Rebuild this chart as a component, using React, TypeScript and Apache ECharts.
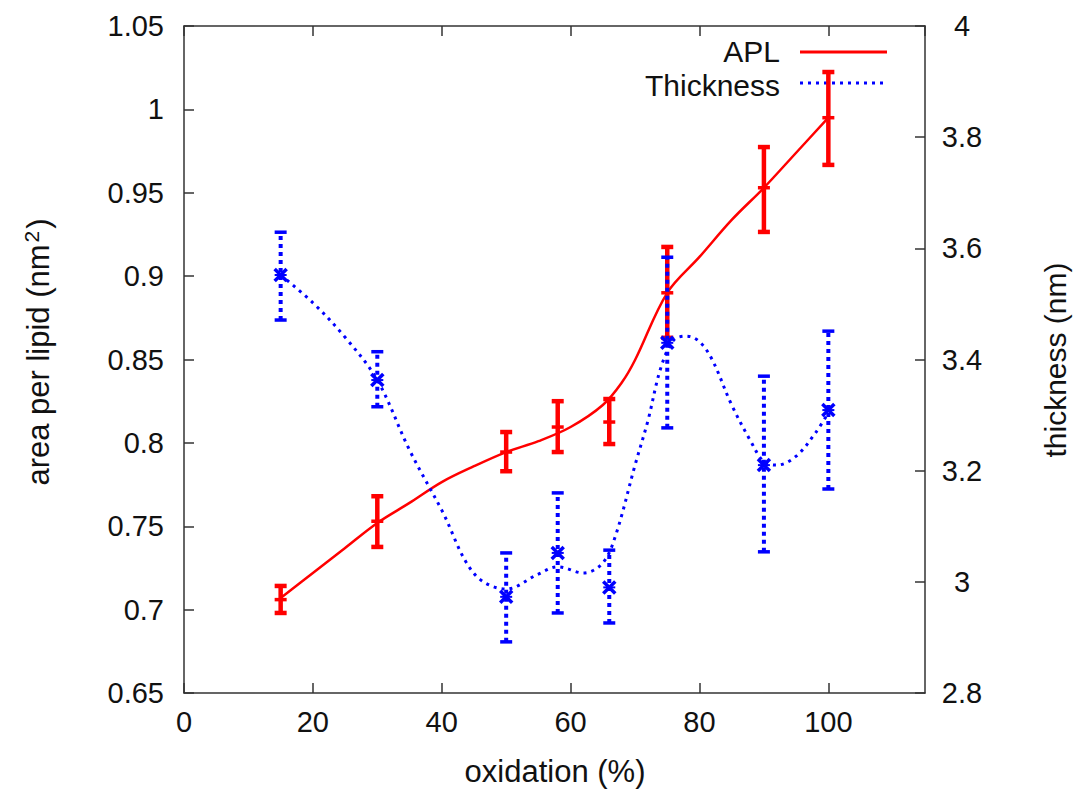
import React, { useEffect, useRef } from "react";
import * as echarts from "echarts";

// Measured points with error bars
const oxidation = [15, 30, 50, 58, 66, 75, 90, 100];
const apl = [0.706, 0.753, 0.7945, 0.8095, 0.8125, 0.89, 0.953, 0.995];
const aplLow = [0.698, 0.7376, 0.783, 0.7945, 0.7993, 0.863, 0.9265, 0.9667];
const aplHigh = [0.7142, 0.768, 0.8065, 0.825, 0.8263, 0.9175, 0.9774, 1.0224];
const thickness = [3.552, 3.363, 2.973, 3.052, 2.99, 3.43, 3.21, 3.309];
const thickLow = [3.471, 3.315, 2.892, 2.944, 2.926, 3.277, 3.054, 3.167];
const thickHigh = [3.629, 3.414, 3.052, 3.16, 3.057, 3.584, 3.37, 3.451];

// Smoothed fit curves
const aplCurveX = [15, 20, 25, 30, 35, 40, 45, 50, 55, 60, 65, 68, 70, 75, 80, 85, 90, 95, 100];
const aplCurveY = [0.707, 0.722, 0.737, 0.752, 0.764, 0.7765, 0.786, 0.7945, 0.801, 0.8095, 0.8227, 0.8365, 0.8497, 0.89, 0.9115, 0.9337, 0.953, 0.974, 0.995];
const thickCurveX = [15, 20, 25, 30, 35, 40, 45, 50, 55, 58, 62, 65, 67, 70, 72, 74, 76, 78, 80, 82, 85, 88, 90, 92, 95, 98, 100];
const thickCurveY = [3.552, 3.502, 3.44, 3.363, 3.237, 3.129, 3.015, 2.987, 3.014, 3.027, 3.016, 3.034, 3.084, 3.21, 3.29, 3.385, 3.435, 3.442, 3.432, 3.399, 3.318, 3.252, 3.216, 3.21, 3.226, 3.268, 3.304];

const xTicks = [0, 20, 40, 60, 80, 100];

const FONT = "Liberation Sans, Arial, Helvetica, sans-serif";
const AXIS_COLOR = "#333333";

function makeErrorRender(color: string, dashed: boolean) {
  return (params: any, api: any) => {
    const x = api.value(0);
    const y = api.value(1);
    const lo = api.value(2);
    const hi = api.value(3);
    const pc = api.coord([x, y]);
    const pl = api.coord([x, lo]);
    const ph = api.coord([x, hi]);
    const cap = 6;
    const lw = dashed ? 4 : 4.5;
    const style: any = { stroke: color, lineWidth: lw, fill: "none" };
    if (dashed) style.lineDash = [4, 4];
    const capStyle: any = { stroke: color, lineWidth: dashed ? 3.5 : 4.5 };
    const children: any[] = [
      { type: "line", shape: { x1: pl[0], y1: pl[1], x2: ph[0], y2: ph[1] }, style },
      { type: "line", shape: { x1: pl[0] - cap, y1: pl[1], x2: pl[0] + cap, y2: pl[1] }, style: capStyle },
      { type: "line", shape: { x1: ph[0] - cap, y1: ph[1], x2: ph[0] + cap, y2: ph[1] }, style: capStyle },
    ];
    if (dashed) {
      const m = 6;
      children.push(
        { type: "line", shape: { x1: pc[0] - m, y1: pc[1] - m, x2: pc[0] + m, y2: pc[1] + m }, style: { stroke: color, lineWidth: 3.5 } },
        { type: "line", shape: { x1: pc[0] - m, y1: pc[1] + m, x2: pc[0] + m, y2: pc[1] - m }, style: { stroke: color, lineWidth: 3.5 } },
        { type: "line", shape: { x1: pc[0] - m, y1: pc[1], x2: pc[0] + m, y2: pc[1] }, style: { stroke: color, lineWidth: 2 } }
      );
    } else {
      children.push({
        type: "line",
        shape: { x1: pc[0] - 6, y1: pc[1], x2: pc[0] + 6, y2: pc[1] },
        style: { stroke: color, lineWidth: 3.5 },
      });
    }
    return { type: "group", children };
  };
}

export default function App() {
  const ref = useRef<HTMLDivElement>(null);

  useEffect(() => {
    if (!ref.current) return;
    const chart = echarts.init(ref.current, undefined, { renderer: "svg" });

    const aplLine = aplCurveX.map((x, i) => [x, aplCurveY[i]]);
    const thickLine = thickCurveX.map((x, i) => [x, thickCurveY[i]]);
    const aplErr = oxidation.map((x, i) => [x, apl[i], aplLow[i], aplHigh[i]]);
    const thickErr = oxidation.map((x, i) => [x, thickness[i], thickLow[i], thickHigh[i]]);

    const tickLabelStyle = { fontFamily: FONT, fontSize: 29, color: "#111" };
    const axisLine = { show: true, onZero: false, lineStyle: { color: AXIS_COLOR, width: 1.5 } };
    const axisTick = { show: true, inside: true, length: 10, lineStyle: { color: AXIS_COLOR, width: 1.5 } };

    const option: any = {
      animation: false,
      backgroundColor: "#ffffff",
      grid: { left: 184, right: 151, top: 26, bottom: 98, containLabel: false },
      xAxis: [
        {
          type: "value",
          min: 0,
          max: 115,
          interval: 20,
          position: "bottom",
          axisLine,
          axisTick,
          splitLine: { show: false },
          axisLabel: {
            ...tickLabelStyle,
            margin: 14,
            showMaxLabel: false,
            formatter: (v: number) =>
              xTicks.includes(Math.round(v)) && Math.abs(v - Math.round(v)) < 1e-6 ? String(Math.round(v)) : "",
          },
        },
        {
          type: "value",
          min: 0,
          max: 115,
          interval: 20,
          position: "top",
          axisLine,
          axisTick,
          splitLine: { show: false },
          axisLabel: { show: false },
        },
      ],
      yAxis: [
        {
          type: "value",
          min: 0.65,
          max: 1.05,
          interval: 0.05,
          position: "left",
          axisLine,
          axisTick,
          splitLine: { show: false },
          axisLabel: {
            ...tickLabelStyle,
            margin: 20,
            formatter: (v: number) => String(+v.toFixed(2)),
          },
        },
        {
          type: "value",
          min: 2.8,
          max: 4,
          interval: 0.2,
          position: "right",
          axisLine,
          axisTick,
          splitLine: { show: false },
          axisLabel: {
            ...tickLabelStyle,
            margin: 37,
            align: "center",
            formatter: (v: number) => String(+v.toFixed(1)),
          },
        },
      ],
      series: [
        {
          type: "custom",
          name: "APL err",
          xAxisIndex: 0,
          yAxisIndex: 0,
          renderItem: makeErrorRender("#ff0000", false),
          data: aplErr,
          z: 3,
        },
        {
          type: "line",
          name: "APL",
          xAxisIndex: 0,
          yAxisIndex: 0,
          data: aplLine,
          smooth: 0.35,
          showSymbol: false,
          symbol: "none",
          lineStyle: { color: "#ff0000", width: 2.5 },
          z: 4,
        },
        {
          type: "custom",
          name: "Thickness err",
          xAxisIndex: 0,
          yAxisIndex: 1,
          renderItem: makeErrorRender("#0000ff", true),
          data: thickErr,
          z: 5,
        },
        {
          type: "line",
          name: "Thickness",
          xAxisIndex: 0,
          yAxisIndex: 1,
          data: thickLine,
          smooth: 0.35,
          showSymbol: false,
          symbol: "none",
          lineStyle: { color: "#0000ff", width: 3, type: [3, 5] },
          z: 6,
        },
      ],
      graphic: [
        {
          type: "text",
          x: 38,
          y: 352,
          rotation: Math.PI / 2,
          style: {
            text: "area per lipid (nm{sup|2})",
            fontFamily: FONT,
            fontSize: 31,
            fill: "#111",
            align: "center",
            verticalAlign: "middle",
            rich: {
              sup: { fontFamily: FONT, fontSize: 21, fill: "#111", verticalAlign: "top", padding: [0, 2, 14, 2] },
            },
          },
        },
        {
          type: "text",
          x: 1055,
          y: 360,
          rotation: Math.PI / 2,
          style: {
            text: "thickness (nm)",
            fontFamily: FONT,
            fontSize: 30,
            fill: "#111",
            align: "center",
            verticalAlign: "middle",
          },
        },
        {
          type: "text",
          x: 555,
          y: 771,
          style: {
            text: "oxidation (%)",
            fontFamily: FONT,
            fontSize: 31,
            fill: "#111",
            align: "center",
            verticalAlign: "middle",
          },
        },
        {
          type: "text",
          x: 780,
          y: 51,
          style: {
            text: "APL",
            fontFamily: FONT,
            fontSize: 30,
            fill: "#111",
            align: "right",
            verticalAlign: "middle",
          },
        },
        {
          type: "line",
          shape: { x1: 800, y1: 52, x2: 887, y2: 52 },
          style: { stroke: "#ff0000", lineWidth: 3 },
        },
        {
          type: "text",
          x: 780,
          y: 85,
          style: {
            text: "Thickness",
            fontFamily: FONT,
            fontSize: 30,
            fill: "#111",
            align: "right",
            verticalAlign: "middle",
          },
        },
        {
          type: "line",
          shape: { x1: 800, y1: 83, x2: 884, y2: 83 },
          style: { stroke: "#0000ff", lineWidth: 3, lineDash: [3, 5] },
        },
      ],
    };

    chart.setOption(option);
    return () => chart.dispose();
  }, []);

  return (
    <div
      ref={ref}
      style={{ position: "absolute", left: 0, top: 0, width: 1076, height: 791, background: "#fff" }}
    />
  );
}
